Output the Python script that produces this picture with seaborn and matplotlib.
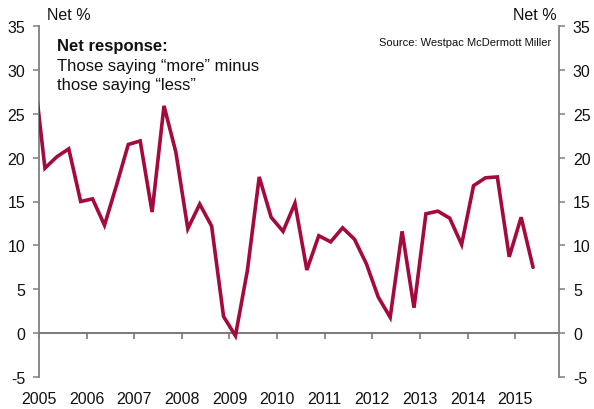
import matplotlib
matplotlib.use("Agg")
import matplotlib.pyplot as plt
import seaborn as sns
import pandas as pd
import numpy as np

# Quarterly net response series (2004Q4 - 2015Q2)
quarters = [str(p) for p in pd.period_range("2004Q4", "2015Q2", freq="Q")]
net_response = [
    30.7,
    18.8, 20.1, 21.0, 15.0,
    15.3, 12.3, 16.8, 21.5,
    21.9, 13.8, 25.9, 20.6,
    11.9, 14.7, 12.2, 1.9,
    -0.3, 7.1, 17.8, 13.2,
    11.6, 14.8, 7.2, 11.1,
    10.4, 12.0, 10.7, 7.9,
    4.1, 1.8, 11.6, 2.9,
    13.6, 13.9, 13.1, 10.1,
    16.8, 17.7, 17.8, 8.7,
    13.2, 7.5,
]
year_ticks = list(range(2005, 2016))
y_ticks = [-5, 0, 5, 10, 15, 20, 25, 30, 35]

LINE_COLOR = "#A40A3C"
AXIS_COLOR = "#7f7f7f"

sns.set_style("white")
plt.rcParams["font.family"] = ["Liberation Sans", "DejaVu Sans"]

periods = pd.PeriodIndex(quarters, freq="Q")
df = pd.DataFrame({
    "date": periods.year + (periods.quarter - 0.5) / 4.0,
    "net": net_response,
})

fig = plt.figure(figsize=(5.94, 4.10), dpi=100)
ax = fig.add_axes([39 / 594, 1 - 378 / 410, 520 / 594, 351 / 410])

sns.lineplot(data=df, x="date", y="net", ax=ax, color=LINE_COLOR,
             linewidth=2.6, solid_joinstyle="miter", zorder=3)

ax.set_xlim(2005, 2015.92)
ax.set_ylim(-5, 35)
ax.set_xlabel("")
ax.set_ylabel("")

# Y axes on both sides
ax.set_yticks(y_ticks)
ax.set_yticklabels([str(t) for t in y_ticks])
ax.tick_params(axis="y", which="both", left=True, right=True,
               labelleft=True, labelright=True, direction="out",
               length=4, width=1.1, color=AXIS_COLOR, pad=6,
               labelsize=11.5, labelcolor="#111111")

# Year labels along the bottom
ax.set_xticks(year_ticks)
ax.set_xticklabels([str(y) for y in year_ticks])
ax.tick_params(axis="x", bottom=True, length=0, pad=10,
               labelsize=11.5, labelcolor="#111111")

for side in ["top", "bottom"]:
    ax.spines[side].set_visible(False)
for side in ["left", "right"]:
    ax.spines[side].set_visible(True)
    ax.spines[side].set_color(AXIS_COLOR)
    ax.spines[side].set_linewidth(1.3)

# Zero line carrying the year tick marks
zero_axis = ax.secondary_xaxis(5 / 40)
zero_axis.set_xticks(year_ticks)
zero_axis.set_xticklabels([])
zero_axis.tick_params(axis="x", length=4, width=1.1, color="#6f6f6f",
                      direction="out")
zero_axis.spines["bottom"].set_color("#6f6f6f")
zero_axis.spines["bottom"].set_linewidth(1.3)
for side in ["top", "left", "right"]:
    zero_axis.spines[side].set_visible(False)

# Axis unit labels
ax.text(0.015, 1.032, "Net %", transform=ax.transAxes, ha="left",
        va="center", fontsize=11.5, color="#111111")
ax.text(0.9956, 1.032, "Net %", transform=ax.transAxes, ha="right",
        va="center", fontsize=11.5, color="#111111")

# Annotations
ax.text(0.034, 0.944, "Net response:", transform=ax.transAxes,
        ha="left", va="center", fontsize=12, fontweight="bold",
        color="#111111")
ax.text(0.034, 0.887, "Those saying \u201cmore\u201d minus",
        transform=ax.transAxes, ha="left", va="center", fontsize=12,
        color="#111111")
ax.text(0.034, 0.832, "those saying \u201cless\u201d",
        transform=ax.transAxes, ha="left", va="center", fontsize=12,
        color="#111111")
ax.text(0.986, 0.955, "Source: Westpac McDermott Miller",
        transform=ax.transAxes, ha="right", va="center", fontsize=8,
        color="#111111")

fig.savefig("out.png", dpi=100)
